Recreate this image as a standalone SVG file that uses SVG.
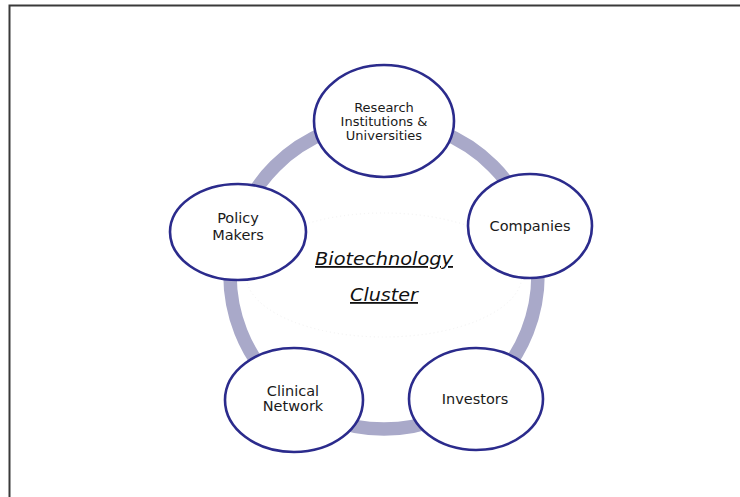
<svg xmlns="http://www.w3.org/2000/svg" width="740" height="497" viewBox="0 0 740 497">
  <style>
    .frame { stroke: #3a3a3a; stroke-width: 2; fill: none; }
    .ring { fill: none; stroke: #a9a9c9; stroke-width: 13.5; }
    .halo { fill: none; stroke: #f1f1f1; stroke-width: 1; stroke-dasharray: 1 3; }
    .node { fill: #ffffff; stroke: #2b2b8c; stroke-width: 2.6; }
    .label { font-family: "DejaVu Sans", Verdana, sans-serif; font-size: 14.5px; fill: #1a1a1a; text-anchor: middle; }
    .small { font-size: 13px; }
    .title { font-family: "DejaVu Sans", Verdana, sans-serif; font-size: 18px; font-style: italic; text-decoration: underline; fill: #111111; text-anchor: middle; }
  </style>
  <rect width="740" height="497" fill="#ffffff"/>
  <!-- page frame (top and left edges) -->
  <path class="frame" d="M9.5 497 V5.5 H740"/>

  <!-- cycle linking the cluster members -->
  <g id="connectors">
    <circle class="ring" cx="384" cy="275" r="154"/>
  </g>

  <!-- faint boundary around the cluster title -->
  <ellipse class="halo" cx="384" cy="275" rx="138" ry="62"/>

  <g id="cluster-title">
    <text class="title" x="384" y="265" textLength="138" lengthAdjust="spacingAndGlyphs">Biotechnology</text>
    <text class="title" x="384" y="301" textLength="68" lengthAdjust="spacingAndGlyphs">Cluster</text>
  </g>

  <g id="research">
    <ellipse class="node" cx="384" cy="121" rx="70" ry="56"/>
    <text class="label small" x="384" y="112">Research</text>
    <text class="label small" x="384" y="126">Institutions &amp;</text>
    <text class="label small" x="384" y="140">Universities</text>
  </g>

  <g id="companies">
    <ellipse class="node" cx="530" cy="226" rx="62" ry="52"/>
    <text class="label" x="530" y="231">Companies</text>
  </g>

  <g id="investors">
    <ellipse class="node" cx="476" cy="399" rx="67" ry="51"/>
    <text class="label" x="475" y="404">Investors</text>
  </g>

  <g id="clinical-network">
    <ellipse class="node" cx="294" cy="400" rx="69" ry="52"/>
    <text class="label" x="293" y="396">Clinical</text>
    <text class="label" x="293" y="411">Network</text>
  </g>

  <g id="policy-makers">
    <ellipse class="node" cx="238" cy="232" rx="68" ry="48"/>
    <text class="label" x="238" y="223">Policy</text>
    <text class="label" x="238" y="240">Makers</text>
  </g>
</svg>
